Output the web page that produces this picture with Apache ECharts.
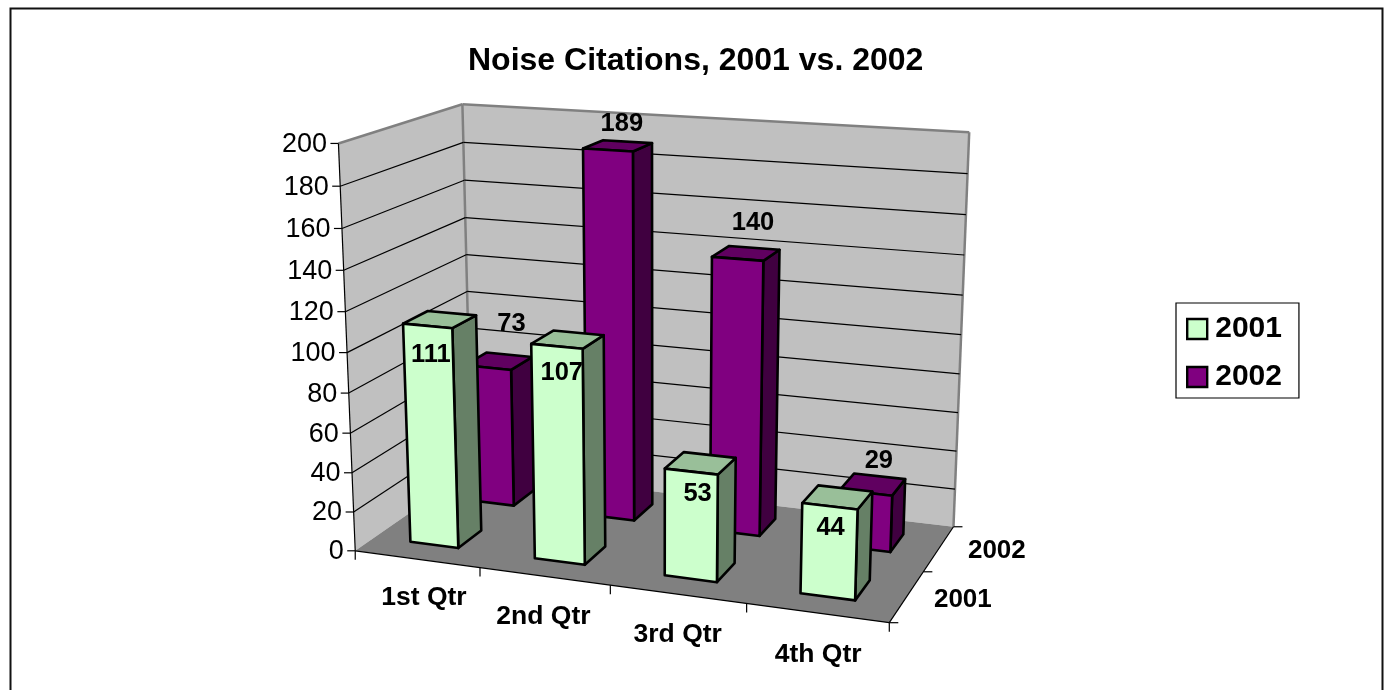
<!DOCTYPE html>
<html><head><meta charset="utf-8">
<style>html,body{margin:0;padding:0;background:#fff;overflow:hidden}#c{width:1384px;height:690px}</style>
<script src="https://cdn.jsdelivr.net/npm/echarts@6/dist/echarts.min.js"></script>
</head><body><div id="c"></div>
<script>
const categories = ['1st Qtr','2nd Qtr','3rd Qtr','4th Qtr'];
const years = ['2001','2002'];
const values2001 = [111,107,53,44];
const values2002 = [73,189,140,29];
const valueTicks = [0,20,40,60,80,100,120,140,160,180,200];
const titleText = 'Noise Citations, 2001 vs. 2002';

// Camera calibration for the perspective projection: box coords (u across, w depth, h height) -> picture
const CAL = [
 [0,0,0,355,550.7],[1,0,0,889,622.7],[1,1,0,953.3,526],[0,1,0,472,470],
 [0,0,1,339.3,143.3],[0,1,1,461.7,104],[1,1,1,969.3,132.3],
 [.25,0,0,480,567.6],[.5,0,0,610,585],[.75,0,0,746.7,603.5],
 [0,0,.5,346.7,352.7],[0,1,.5,467.3,291.7],[1,1,.5,961,335],[1,.5,0,924,572.3]
];
function solveCamera(){
  const rows=[],rhs=[];
  CAL.forEach(([u,w,h,x,y])=>{x/=1000;y/=1000;
    rows.push([u,w,h,1,0,0,0,0,-x*u,-x*w,-x*h]);rhs.push(x);
    rows.push([0,0,0,0,u,w,h,1,-y*u,-y*w,-y*h]);rhs.push(y);});
  const n=11,A=[];
  for(let i=0;i<n;i++){A[i]=[];for(let j=0;j<=n;j++){let s=0;
    rows.forEach((r,k)=>{s+=r[i]*(j<n?r[j]:rhs[k]);});A[i][j]=s;}}
  for(let i=0;i<n;i++){let p=i;for(let r=i+1;r<n;r++)if(Math.abs(A[r][i])>Math.abs(A[p][i]))p=r;
    [A[i],A[p]]=[A[p],A[i]];
    for(let r=0;r<n;r++){if(r===i)continue;const f=A[r][i]/A[i][i];for(let c=i;c<=n;c++)A[r][c]-=f*A[i][c];}}
  return A.map((r,i)=>r[n]/r[i]);
}
const M=solveCamera();
function P(u,w,h){const d=M[8]*u+M[9]*w+M[10]*h+1;
  return [1000*(M[0]*u+M[1]*w+M[2]*h+M[3])/d,1000*(M[4]*u+M[5]*w+M[6]*h+M[7])/d];}

const GRID={left:355,top:144,width:534,height:407};
const BAR_FRAC=.39, BAR_SHIFT=-.003, BAR_DEPTH=.2, DEPTH_SHIFT=.004;
const FONT='"Liberation Sans",Arial,sans-serif';
const LABEL_NUDGE={ '2001':[[-9,36],[-6,33],[-3,31],[-7,31]], '2002':[[13,-37],[4,-22],[7,-30],[6,-23]] };
const CAT_NUDGE=[[7,39],[-1,40],[0,40],[1,42]];
const DEPTH_NUDGE=[[56,3],[58,2]];

function nv(api,cat,val){const c=api.coord([cat,val]);return [(c[0]-GRID.left)/GRID.width,(GRID.top+GRID.height-c[1])/GRID.height];}
const line=(a,b,stroke,lw)=>({type:'line',shape:{x1:a[0],y1:a[1],x2:b[0],y2:b[1]},style:{stroke,lineWidth:lw,fill:null},silent:true});
const poly=(pts,fill,stroke,lw)=>({type:'polygon',shape:{points:pts},style:{fill,stroke,lineWidth:lw,lineJoin:'round'},silent:true});
const txt=(text,x,y,font,align)=>({type:'text',style:{text,x,y,font,fill:'#000',align:align||'center',verticalAlign:'middle'},z2:50,silent:true});

function renderWalls(){
  const A=P(0,0,0),B=P(1,0,0),C=P(1,1,0),D=P(0,1,0),E=P(0,0,1),F=P(0,1,1),G=P(1,1,1);
  return {type:'group',children:[
    poly([E,F,D,A],'#c0c0c0','none',0),
    poly([F,G,C,D],'#c0c0c0','none',0),
    poly([A,B,C,D],'#808080','none',0),
    line(E,F,'#808080',2.5),line(F,G,'#808080',2.5),line(G,C,'#808080',2.5),line(F,D,'#808080',2.5),
    line(A,B,'#000',1.2),line(B,C,'#000',1.2),line(E,A,'#000',1.2)
  ]};
}
function renderValueTick(params,api){
  const v=api.value(1), h=nv(api,0,v)[1];
  const a=P(0,0,h),b=P(0,1,h),c=P(1,1,h),ch=[line([a[0]-8,a[1]],a,'#000',1.2),
    txt(String(v),a[0]-11.5,a[1]+1,'27px '+FONT,'right')];
  if(v>0&&v<200){ch.push(line(a,b,'#000',1.2),line(b,c,'#000',1.2));}
  return {type:'group',children:ch};
}
function renderCat(params,api){
  const i=params.dataIndex,band=api.size([1,0])[0]/GRID.width,u=nv(api,i,0)[0];
  const t=P(u-band/2,0,0),m=P(u,0,0),n=CAT_NUDGE[i],ch=[line(t,[t[0],t[1]+9],'#000',1.2),
    txt(categories[i],m[0]+n[0],m[1]+n[1],'bold 26.5px '+FONT)];
  if(i===categories.length-1){const e=P(u+band/2,0,0);ch.push(line(e,[e[0],e[1]+9],'#000',1.2));}
  return {type:'group',children:ch};
}
function renderDepth(params){
  const i=params.dataIndex,a=P(1,i/years.length,0),b=P(1,(i+.5)/years.length,0),n=DEPTH_NUDGE[i],ch=[line(a,[a[0]+9,a[1]],'#000',1.2),
    txt(years[i],b[0]+n[0],b[1]+n[1],'bold 26px '+FONT)];
  if(i===years.length-1){const e=P(1,1,0);ch.push(line(e,[e[0]+9,e[1]],'#000',1.2));}
  return {type:'group',children:ch};
}
function barRenderer(name,row,cols){
  return function(params,api){
    const i=params.dataIndex,val=api.value(1),[ucRaw,h]=nv(api,i,val),band=api.size([1,0])[0]/GRID.width;
    const uc=ucRaw+BAR_SHIFT,u0=uc-band*BAR_FRAC/2,u1=uc+band*BAR_FRAC/2;
    const wc=(row+.5)/years.length+DEPTH_SHIFT,w0=wc-BAR_DEPTH/2,w1=wc+BAR_DEPTH/2;
    const fbl=P(u0,w0,0),fbr=P(u1,w0,0),ftl=P(u0,w0,h),ftr=P(u1,w0,h),bbr=P(u1,w1,0),btr=P(u1,w1,h),btl=P(u0,w1,h);
    const n=LABEL_NUDGE[name][i],c=P(uc,wc,h);
    return {type:'group',children:[
      poly([ftr,btr,bbr,fbr],cols[2],'#000',2.6),
      poly([ftl,btl,btr,ftr],cols[1],'#000',2.6),
      poly([ftl,ftr,fbr,fbl],cols[0],'#000',2.6),
      txt(String(val),c[0]+n[0],c[1]+n[1],'bold 25.5px '+FONT)
    ]};
  };
}
const hiddenAxis={show:false};
const chart=echarts.init(document.getElementById('c'),null,{renderer:'canvas'});
const custom=(o)=>Object.assign({type:'custom',silent:true,clip:false,animation:false,coordinateSystem:'cartesian2d'},o);
chart.setOption({
  animation:false,backgroundColor:'#fff',
  title:{text:titleText,left:463,top:40.5,textStyle:{fontFamily:FONT,fontWeight:'bold',fontSize:32,color:'#000'}},
  grid:Object.assign({},GRID),
  xAxis:Object.assign({type:'category',data:categories},hiddenAxis),
  yAxis:Object.assign({type:'value',min:0,max:200,interval:20},hiddenAxis),
  legend:{orient:'vertical',left:1176,top:303,padding:[11,17,6,10],itemGap:18,itemWidth:20,itemHeight:20,icon:'rect',
    backgroundColor:'#fff',borderColor:'#000',borderWidth:1.2,borderRadius:0,selectedMode:false,
    textStyle:{fontFamily:FONT,fontWeight:'bold',fontSize:30,color:'#000',padding:[0,0,0,3]},
    data:years.map(y=>({name:y,icon:'rect',itemStyle:{borderColor:'#000',borderWidth:2.4}}))},
  graphic:[{type:'rect',left:8,top:6,shape:{width:1372,height:720},style:{fill:'none',stroke:'#111',lineWidth:2},silent:true,z:-1}],
  series:[
    custom({name:'walls',z:1,data:[[0,0]],renderItem:renderWalls}),
    custom({name:'value axis',z:2,data:valueTicks.map(v=>[0,v]),renderItem:renderValueTick}),
    custom({name:'category axis',z:2,data:categories.map((c,i)=>[i,0]),renderItem:renderCat}),
    custom({name:'depth axis',z:2,data:years.map((y,i)=>[0,0]),renderItem:renderDepth}),
    custom({name:'2002',z:3,itemStyle:{color:'#800080'},data:values2002.map((v,i)=>[i,v]),renderItem:barRenderer('2002',1,['#800080','#600060','#400040'])}),
    custom({name:'2001',z:4,itemStyle:{color:'#ccffcc'},data:values2001.map((v,i)=>[i,v]),renderItem:barRenderer('2001',0,['#ccffcc','#99bf99','#668066'])})
  ]
});
</script></body></html>
